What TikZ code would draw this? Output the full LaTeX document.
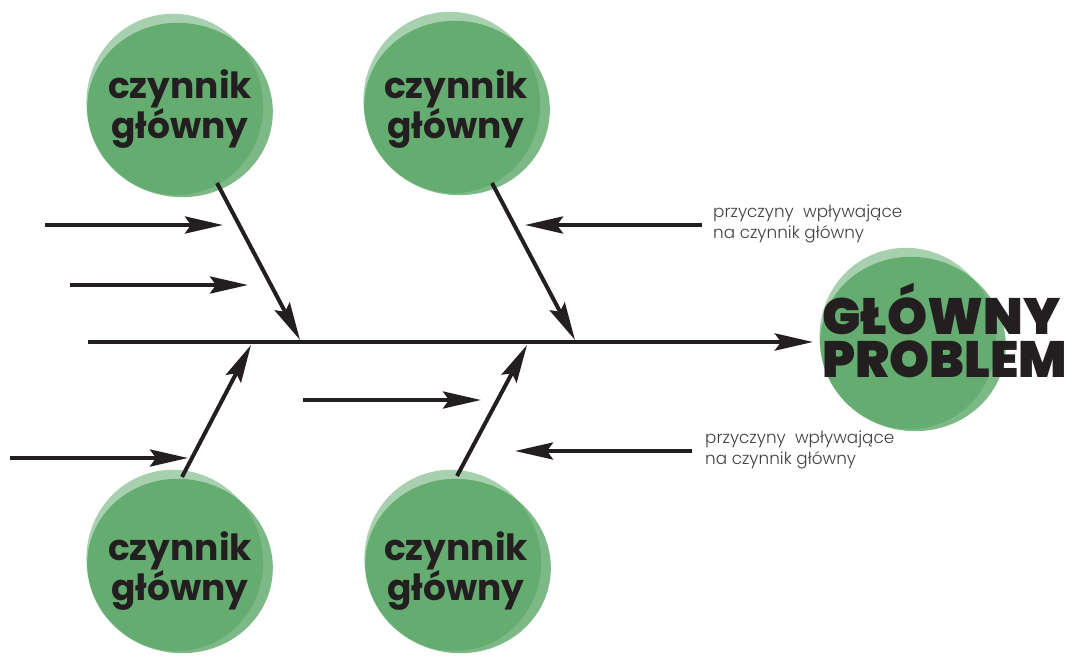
\documentclass[tikz,border=0pt]{standalone}
\usepackage{fontspec}
\setmainfont{Poppins}
\newfontfamily\boldf{Poppins Bold}
\newfontfamily\blackf{Poppins Black}
\newfontfamily\lightf{Poppins Light}
\usetikzlibrary{arrows.meta}
\definecolor{ink}{HTML}{231F20}
\definecolor{leaf}{RGB}{75,158,88}
\definecolor{labelgray}{HTML}{404040}
\tikzset{
  blobA/.style={fill=leaf, fill opacity=0.485},
  blobB/.style={fill=leaf, fill opacity=0.724},
  blob/.pic={
    \fill[blobA, rotate=20] (-3,-7) ellipse [x radius=88, y radius=91];
    \fill[blobB, rotate=-10] (0,0) ellipse [x radius=93, y radius=87];
  },
  tip/.style={-{Stealth[length=38pt, width=17pt, inset=6pt]}},
  bone/.style={ink, line width=4pt, tip},
  spine/.style={ink, line width=4.6pt, tip},
  factor/.style={font=\boldf\fontsize{36}{40}\selectfont, text=ink, inner sep=0pt, anchor=base},
  problem/.style={font=\blackf\fontsize{51}{43}\selectfont, text=ink, inner sep=0pt, align=left, anchor=south west},
  cause/.style={font=\lightf\fontsize{16.8}{21}\selectfont, text=labelgray, inner sep=0pt, align=left, anchor=north west},
}
\begin{document}
\begin{tikzpicture}[x=1pt, y=-1pt]
\useasboundingbox (0,0) rectangle (1083,656);
\clip (0,0) rectangle (1083,656);
% blobs
\pic at (180,110) {blob};
\pic at (457,108) {blob};
\pic at (180,566) {blob};
\pic at (458,566) {blob};
\pic at (913,344) {blob};
% texts
\node[factor] (tla) at (180,98) {czynnik};
\node[factor] (tlb) at (180,138) {główny};
\node[factor] (tma) at (456,98) {czynnik};
\node[factor] (tmb) at (456,138) {główny};
\node[factor] (bla) at (180,560) {czynnik};
\node[factor] (blb) at (180,600) {główny};
\node[factor] (bma) at (456,560) {czynnik};
\node[factor] (bmb) at (456,600) {główny};
\node[problem] (prob) at (822,378) {GŁÓWNY\\PROBLEM};
\node[cause] (c1) at (713,205) {przyczyny\ \ wpływające\\na czynnik główny};
\node[cause] (c2) at (705,431) {przyczyny\ \ wpływające\\na czynnik główny};
% coordinates
\coordinate (s0) at (88,342);
\coordinate (s1) at (813,342);
\coordinate (tl0) at (217,183);
\coordinate (tl1) at (300,340);
\coordinate (tm0) at (492,183);
\coordinate (tm1) at (575,340);
\coordinate (bl0) at (182,477);
\coordinate (bl1) at (251,345);
\coordinate (bm0) at (457,476);
\coordinate (bm1) at (527,345);
\coordinate (a1s) at (45,225);
\coordinate (a1e) at (223,225);
\coordinate (a2s) at (70,285);
\coordinate (a2e) at (248,285);
\coordinate (a3s) at (10,458);
\coordinate (a3e) at (188,458);
\coordinate (a4s) at (303,400);
\coordinate (a4e) at (481,400);
\coordinate (a5s) at (702,225);
\coordinate (a5e) at (525,225);
\coordinate (a6s) at (692,451);
\coordinate (a6e) at (515,451);
% connectors
\draw[spine] (s0) -- (s1);
\draw[bone] (tl0) -- (tl1);
\draw[bone] (tm0) -- (tm1);
\draw[bone] (bl0) -- (bl1);
\draw[bone] (bm0) -- (bm1);
\draw[bone] (a1s) -- (a1e);
\draw[bone] (a2s) -- (a2e);
\draw[bone] (a3s) -- (a3e);
\draw[bone] (a4s) -- (a4e);
\draw[bone] (a5s) -- (a5e);
\draw[bone] (a6s) -- (a6e);
\end{tikzpicture}
\end{document}
